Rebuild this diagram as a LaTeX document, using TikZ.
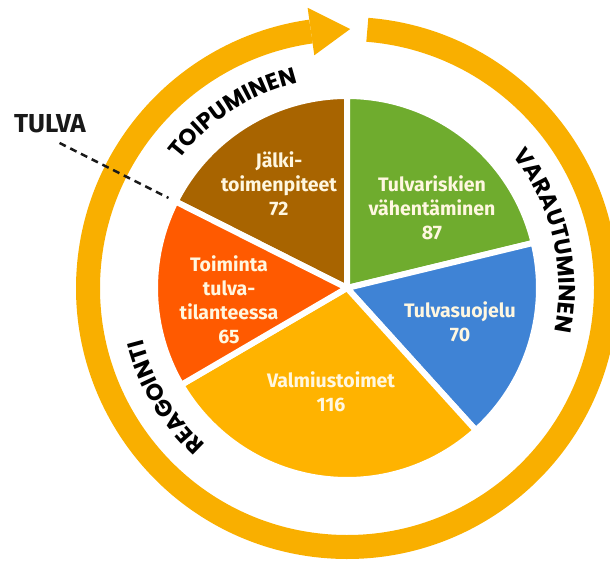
\documentclass[tikz,border=0pt]{standalone}
\usepackage{fontspec}
\setmainfont{Fira Sans}
\newfontfamily\ringfont{Poppins}
\usetikzlibrary{decorations.text}
\definecolor{ringorange}{HTML}{F9AF00}
\definecolor{jalkibrown}{HTML}{A86400}
\definecolor{riskigreen}{HTML}{6FAC2E}
\definecolor{suojelublue}{HTML}{3F83D5}
\definecolor{valmiusyellow}{HTML}{FFB300}
\definecolor{toimintaorange}{HTML}{FF5A00}
\definecolor{labelwhite}{HTML}{FFF7E0}
\newcommand{\ringlabel}{\ringfont\bfseries\fontsize{23}{23}\selectfont}

\begin{document}
\begin{tikzpicture}[x=1pt, y=1pt,
    slice/.style={draw=white, line width=6pt},
    slicetext/.style={text=labelwhite, align=center, font=\bfseries\fontsize{19.5}{24}\selectfont},
    ringtext/.style={decorate, decoration={text along path, text align=center, text={|\ringlabel|#1}}},
    tulvaline/.style={draw=black!90, line width=2.5pt, dash pattern=on 7pt off 5pt}]
    \useasboundingbox (0,0) rectangle (610,560);
    \coordinate (C) at (347,272);
    % pie slices
    \filldraw[slice, fill=jalkibrown] (C) -- ++(90:192) arc[start angle=90, end angle=153.23, radius=192] -- cycle;
    \filldraw[slice, fill=riskigreen] (C) -- ++(13.61:192) arc[start angle=13.61, end angle=90, radius=192] -- cycle;
    \filldraw[slice, fill=suojelublue] (C) -- ++(-47.85:192) arc[start angle=-47.85, end angle=13.61, radius=192] -- cycle;
    \filldraw[slice, fill=valmiusyellow] (C) -- ++(-149.70:192) arc[start angle=-149.70, end angle=-47.85, radius=192] -- cycle;
    \filldraw[slice, fill=toimintaorange] (C) -- ++(153.23:192) arc[start angle=153.23, end angle=210.30, radius=192] -- cycle;
    % slice labels
    \node[slicetext] (jalki) at (279,376) {J\"alki-\\toimenpiteet\\72};
    \node[slicetext] (tulvariski) at (432,352) {Tulvariskien\\v\"ahent\"aminen\\87};
    \node[slicetext] (suojelu) at (460,238) {Tulvasuojelu\\70};
    \node[slicetext] (valmius) at (331,168) {Valmiustoimet\\116};
    \node[slicetext] (toiminta) at (229,260) {Toiminta\\tulva-\\tilanteessa\\65};
    % ring with arrow
    \draw[ringorange, line width=24pt] ([shift={(85.5:259)}]C) arc[start angle=85.5, end angle=-262, radius=259];
    \fill[ringorange] ([shift={(98:235)}]C) -- ([shift={(89.3:259)}]C) -- ([shift={(98:283)}]C) -- cycle;
    % phase labels
    \path[ringtext=TOIPUMINEN] ([shift={(165:211)}]C) arc[start angle=165, end angle=81, radius=211];
    \path[ringtext=VARAUTUMINEN] ([shift={(60:212)}]C) arc[start angle=60, end angle=-33, radius=212];
    \path[ringtext=REAGOINTI] ([shift={(255:211)}]C) arc[start angle=255, end angle=167, radius=211];
    % flood line
    \node[font=\bfseries\fontsize{26}{26}\selectfont, text=black!90] (tulva) at (50,436) {TULVA};
    \coordinate (tulvastart) at ([shift={(153.23:322)}]C);
    \coordinate (tulvaend) at ([shift={(153.23:200)}]C);
    \draw[tulvaline] (tulvastart) -- (tulvaend);
\end{tikzpicture}
\end{document}
